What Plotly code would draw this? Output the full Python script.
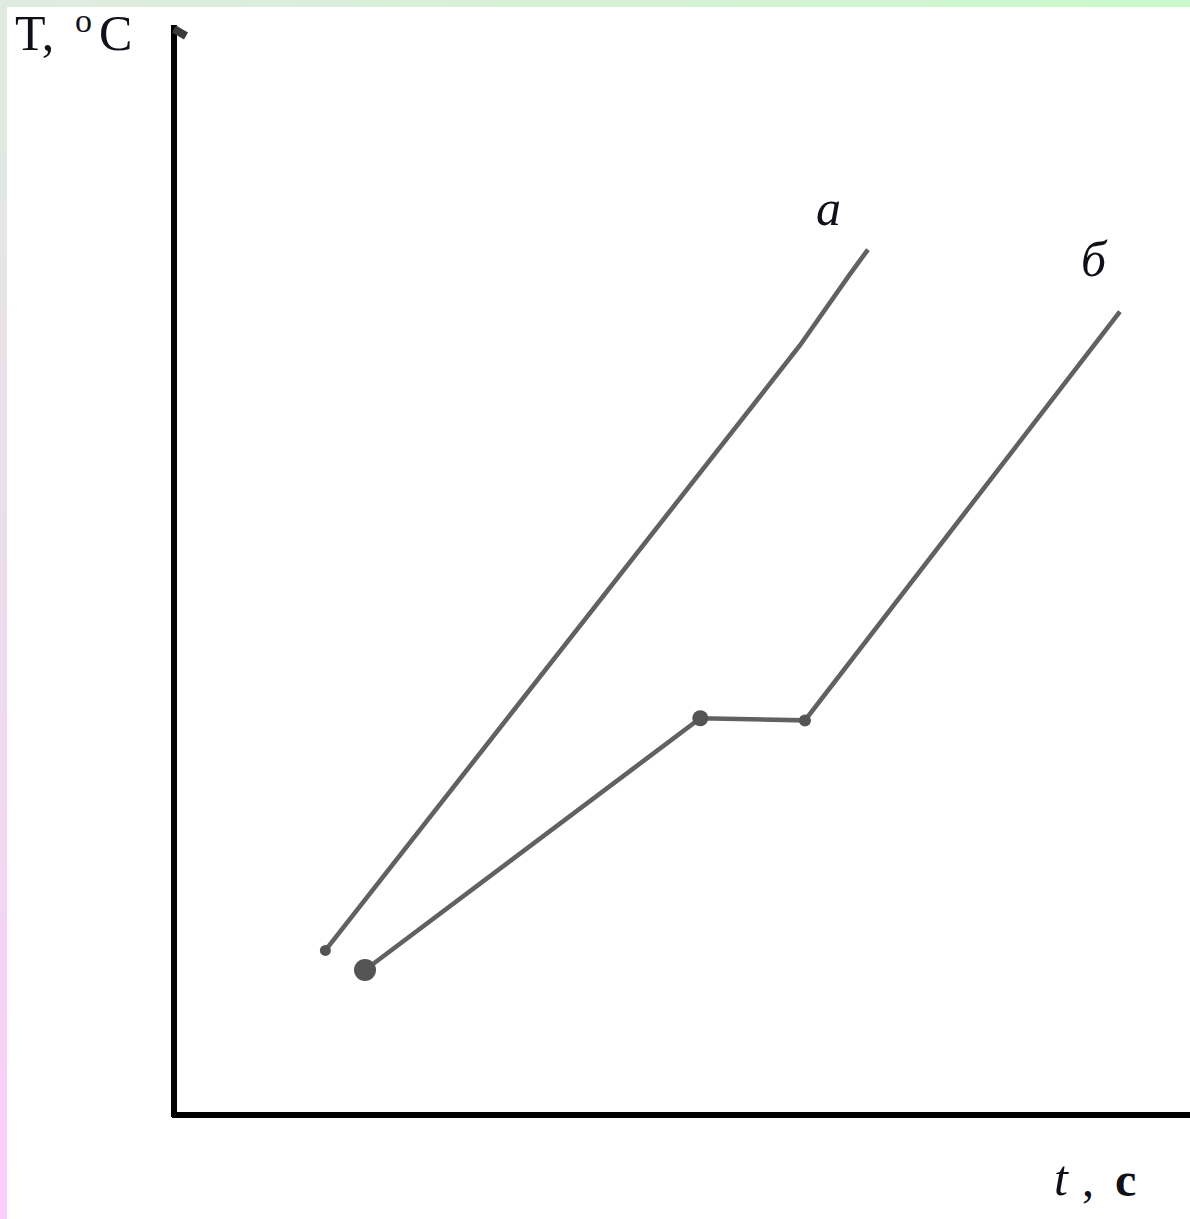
import plotly.graph_objects as go

# Heating curves: temperature T versus time t (arbitrary units, 0..100)
t_a = [14.9, 61.6, 66.5, 68.3]
T_a = [15.1, 70.6, 77.1, 79.4]

t_b = [18.8, 51.8, 62.1, 93.1]
T_b = [13.3, 36.4, 36.2, 73.7]

curve_labels = ["a", "б"]
label_pos_t = [64.4, 90.6]
label_pos_T = [83.2, 78.5]

x_title = ["t", ",", "c"]
y_title = ["T,", "o", "C"]

# plot area geometry (pixels)
W, H = 1190, 1219
L, R, TOP, BOT = 174, 0, 25, 104
PW, PH = W - L - R, H - TOP - BOT


def px(x):
    return (x - L) / PW


def py(y):
    return (H - BOT - y) / PH


line_col = "#616161"
fig = go.Figure()

fig.add_trace(go.Scatter(
    x=t_a, y=T_a, mode="lines",
    line=dict(color=line_col, width=4.6), hoverinfo="skip", showlegend=False))
fig.add_trace(go.Scatter(
    x=t_b, y=T_b, mode="lines",
    line=dict(color=line_col, width=4.6), hoverinfo="skip", showlegend=False))

# blobs at the ends and the break points
fig.add_trace(go.Scatter(
    x=[t_a[0], t_b[0], t_b[1], t_b[2]],
    y=[T_a[0], T_b[0], T_b[1], T_b[2]],
    mode="markers",
    marker=dict(color="#545454", size=[11, 22, 16, 12], opacity=1,
                line=dict(width=0)),
    hoverinfo="skip", showlegend=False))

shapes = []

# window frame strips with a soft colour gradient
def mix(c1, c2, f):
    return "rgb(%d,%d,%d)" % tuple(round(a + (b - a) * f) for a, b in zip(c1, c2))

n = 24
top_l, top_r = (224, 235, 224), (204, 248, 204)
left_t, left_b = (224, 235, 224), (250, 206, 250)
for i in range(n):
    x0 = i * W / n
    x1 = (i + 1) * W / n + 1
    shapes.append(dict(type="rect", xref="paper", yref="paper",
                       x0=px(x0), x1=px(x1), y0=py(7), y1=py(0),
                       fillcolor=mix(top_l, top_r, i / (n - 1)),
                       line=dict(width=0), layer="below"))
    y0 = i * H / n
    y1 = (i + 1) * H / n + 1
    shapes.append(dict(type="rect", xref="paper", yref="paper",
                       x0=px(0), x1=px(7), y0=py(max(y1, 7)), y1=py(max(y0, 7)),
                       fillcolor=mix(left_t, left_b, i / (n - 1)),
                       line=dict(width=0), layer="below"))

# axes drawn as thick black strokes
shapes.append(dict(type="line", xref="paper", yref="paper",
                   x0=0, x1=0, y0=py(1117), y1=1,
                   line=dict(color="black", width=6)))
shapes.append(dict(type="line", xref="paper", yref="paper",
                   x0=px(172), x1=1.01, y0=0, y1=0,
                   line=dict(color="black", width=6)))
# small nib at the top of the vertical axis
shapes.append(dict(type="line", xref="paper", yref="paper",
                   x0=px(174), x1=px(186), y0=py(29), y1=py(36),
                   line=dict(color="#3a3a3a", width=8)))

serif = "Liberation Serif, Times New Roman, serif"
ink = "#101018"
ann = []
for lab, xt, yt in zip(curve_labels, label_pos_t, label_pos_T):
    ann.append(dict(x=xt, y=yt, xref="x", yref="y", text="<i>%s</i>" % lab,
                    showarrow=False, font=dict(family=serif, size=50, color=ink)))

# axis titles
ann.append(dict(x=px(13), y=py(63), xref="paper", yref="paper", text=y_title[0],
                xanchor="left", yanchor="bottom", showarrow=False,
                font=dict(family=serif, size=50, color=ink)))
ann.append(dict(x=px(73), y=py(41), xref="paper", yref="paper", text=y_title[1],
                xanchor="left", yanchor="bottom", showarrow=False,
                font=dict(family=serif, size=34, color=ink)))
ann.append(dict(x=px(97), y=py(63), xref="paper", yref="paper", text=y_title[2],
                xanchor="left", yanchor="bottom", showarrow=False,
                font=dict(family=serif, size=50, color=ink)))

ann.append(dict(x=px(1052), y=py(1208), xref="paper", yref="paper",
                text="<i>%s</i>" % x_title[0],
                xanchor="left", yanchor="bottom", showarrow=False,
                font=dict(family=serif, size=50, color=ink)))
ann.append(dict(x=px(1080), y=py(1208), xref="paper", yref="paper", text=x_title[1],
                xanchor="left", yanchor="bottom", showarrow=False,
                font=dict(family=serif, size=48, color=ink)))
ann.append(dict(x=px(1113), y=py(1208), xref="paper", yref="paper",
                text="<b>%s</b>" % x_title[2],
                xanchor="left", yanchor="bottom", showarrow=False,
                font=dict(family=serif, size=48, color=ink)))

fig.update_layout(
    width=W, height=H,
    margin=dict(l=L, r=R, t=TOP, b=BOT, pad=0),
    paper_bgcolor="white", plot_bgcolor="white",
    shapes=shapes, annotations=ann,
    xaxis=dict(range=[0, 100], visible=False, fixedrange=True),
    yaxis=dict(range=[0, 100], visible=False, fixedrange=True),
)

fig.write_html("out.html")
